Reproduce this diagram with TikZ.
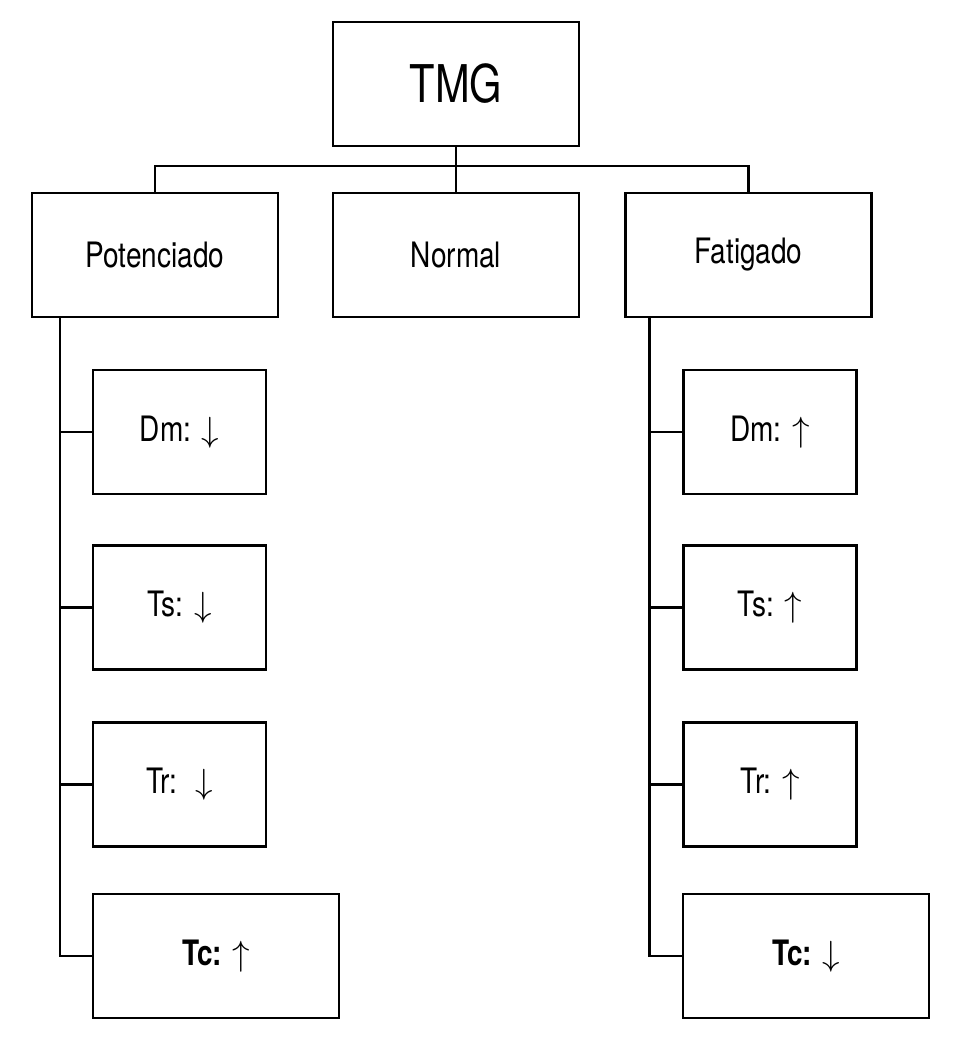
\RequirePackage{fix-cm}
\documentclass[tikz,border=0pt]{standalone}
\usepackage{fontspec}
\setmainfont{TeX Gyre Heros}[FakeStretch=0.8]
\tikzset{box/.style={draw, line width=2.5pt, minimum width=246pt, minimum height=124pt, font=\fontsize{35}{40}\selectfont},
  sub/.style={box, minimum width=173pt},
  wide/.style={box, font=\fontsize{35}{40}\selectfont\bfseries}}
\begin{document}
\begin{tikzpicture}[x=1pt, y=-1pt, line width=2.5pt]
\useasboundingbox (0,0) rectangle (979,1045);
\node[box, font=\fontsize{52}{60}\selectfont](tmg) at (456, 84) {TMG};
\node[box](pot) at (155, 255) {Potenciado};
\node[box](nor) at (456, 255) {Normal};
\node[box](fat) at (748.5, 255) {Fatigado};
\node[sub](pdm) at (179.5, 432) {Dm: $\downarrow$};
\node[sub](pts) at (179.5, 607.5) {Ts: $\downarrow$};
\node[sub](ptr) at (179.5, 784.5) {Tr: \ $\downarrow$};
\node[wide](ptc) at (216, 956) {Tc: $\uparrow$};
\node[sub](fdm) at (770, 432) {Dm: $\uparrow$};
\node[sub](fts) at (770, 607.5) {Ts: $\uparrow$};
\node[sub](ftr) at (770, 784.5) {Tr: $\uparrow$};
\node[wide](ftc) at (806, 956) {Tc: $\downarrow$};
\coordinate(bus) at (456, 166);
\coordinate(pl) at ([xshift=29pt]pot.south west);
\coordinate(fl) at ([xshift=25pt]fat.south west);
\draw (tmg) -- (nor);
\draw (pot.north) |- (bus) -| (fat.north);
\draw (pl) |- (ptc.west);
\draw (fl) |- (ftc.west);
\foreach \n in {pdm, pts, ptr} \draw (\n.west) -- (\n.west -| pl);
\foreach \n in {fdm, fts, ftr} \draw (\n.west) -- (\n.west -| fl);
\end{tikzpicture}
\end{document}
